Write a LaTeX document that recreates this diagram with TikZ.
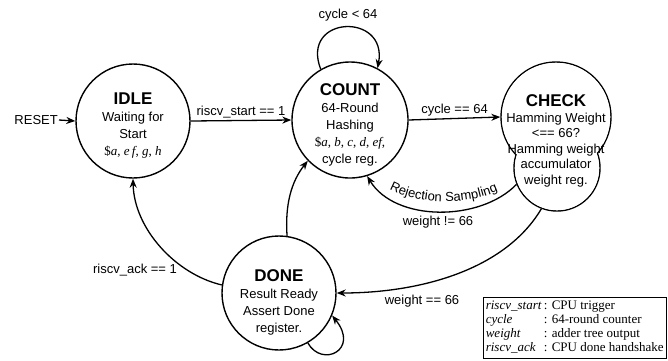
\documentclass[tikz,border=0pt]{standalone}
\usepackage{fontspec}
\setmainfont{Liberation Sans}
\newfontfamily\tms{Liberation Serif}
\usetikzlibrary{arrows.meta,decorations.text}

\begin{document}
\begin{tikzpicture}[x=1pt,y=-1pt,
 state/.style={circle,draw,line width=1.4pt,fill=white,inner sep=0pt},
 edge/.style={line width=1.3pt,-{Stealth[length=9pt,width=7pt]}},
 lbl/.style={font=\fontsize{13}{15}\selectfont,inner sep=1pt},
 body/.style={align=center,font=\fontsize{13}{17}\selectfont,inner sep=0pt},
 ttl/.style={font=\bfseries\fontsize{17}{19}\selectfont}
]
\useasboundingbox (0,0) rectangle (668,360);

% states
\node[state,minimum size=114pt] (idle) at (133,121) {};
\node[state,minimum size=116pt] (count) at (350,120) {};
\node[state,minimum size=114pt] (done) at (279,293) {};
\node[state,minimum size=110pt] (checkA) at (556,117) {};
\node[state,minimum size=86pt] (checkB) at (557,168) {};
\fill[white] (556,117) circle (54.2);
\fill[white] (557,168) circle (42.2);

% state texts
\node[body] (idletext) at (133,126) {{\bfseries\fontsize{17}{19}\selectfont IDLE}\\Waiting for\\Start\\{\tms\$\textit{a}, \textit{e\,f}, \textit{g}, \textit{h}}};
\node[body] (counttext) at (350,125) {{\bfseries\fontsize{17}{19}\selectfont COUNT}\\64-Round\\Hashing\\{\tms\$\textit{a}, \textit{b}, \textit{c}, \textit{d}, \textit{ef},}\\cycle reg.};
\node[body,font=\fontsize{13}{15.5}\selectfont] (checktext) at (556,141) {{\bfseries\fontsize{17}{19}\selectfont CHECK}\\Hamming Weight\\<== 66?\\Hamming weight\\accumulator\\weight reg.};
\node[body] (donetext) at (279,302) {{\bfseries\fontsize{17}{19}\selectfont DONE}\\Result Ready\\Assert Done\\register.};

% reset
\node[lbl,anchor=east] (reset) at (59,120) {RESET};
\draw[edge] (reset.east) -- (idle.west);

% straight edges
\draw[edge] (idle.east) -- node[lbl,above=1pt] (l1) {riscv\_start == 1} (count.west);
\draw[edge] (count.east) -- node[lbl,above=1pt] (l2) {cycle == 64} (checkA.west);

% COUNT self loop
\draw[edge] (count.120) .. controls (300,15) and (388,12) .. (count.62);
\node[lbl] (l3) at (348,15) {cycle < 64};

% CHECK -> COUNT (rejection)
\draw[edge] (checkB.202) .. controls (480,222) and (395,222) .. (count.287);
\path[decorate,decoration={text along path,text align=center,
  text={|\fontsize{13}{15}\selectfont|Rejection Sampling}}]
  (380,183) .. controls (410,206) and (472,208) .. (508,186);
\node[lbl] (l4) at (438,222) {weight != 66};

% CHECK -> DONE
\draw[edge] (checkB.249) .. controls (505,270) and (420,293) .. (done.east);
\node[lbl] (l5) at (422,301) {weight == 66};

% DONE -> IDLE
\draw[edge] (done.172) .. controls (175,274) and (134,228) .. (idle.south);
\node[lbl] (l6) at (135,270) {riscv\_ack == 1};

% DONE -> COUNT
\draw[edge] (done.82) .. controls (285,205) and (291,182) .. (count.224);

% DONE self loop
\draw[edge] (done.-60) .. controls (322,368) and (360,350) .. (done.-23);

% legend
\node[draw,line width=0.6pt,anchor=north west,inner sep=2.5pt,
  font=\tms\fontsize{13}{14}\selectfont] (legend) at (483,297)
{\begin{tabular}{@{}l@{\,}l@{}}
\textit{riscv\_start} & : CPU trigger\\
\textit{cycle} & : 64-round counter\\
\textit{weight} & : adder tree output\\
\textit{riscv\_ack} & : CPU done handshake
\end{tabular}};
\end{tikzpicture}
\end{document}
